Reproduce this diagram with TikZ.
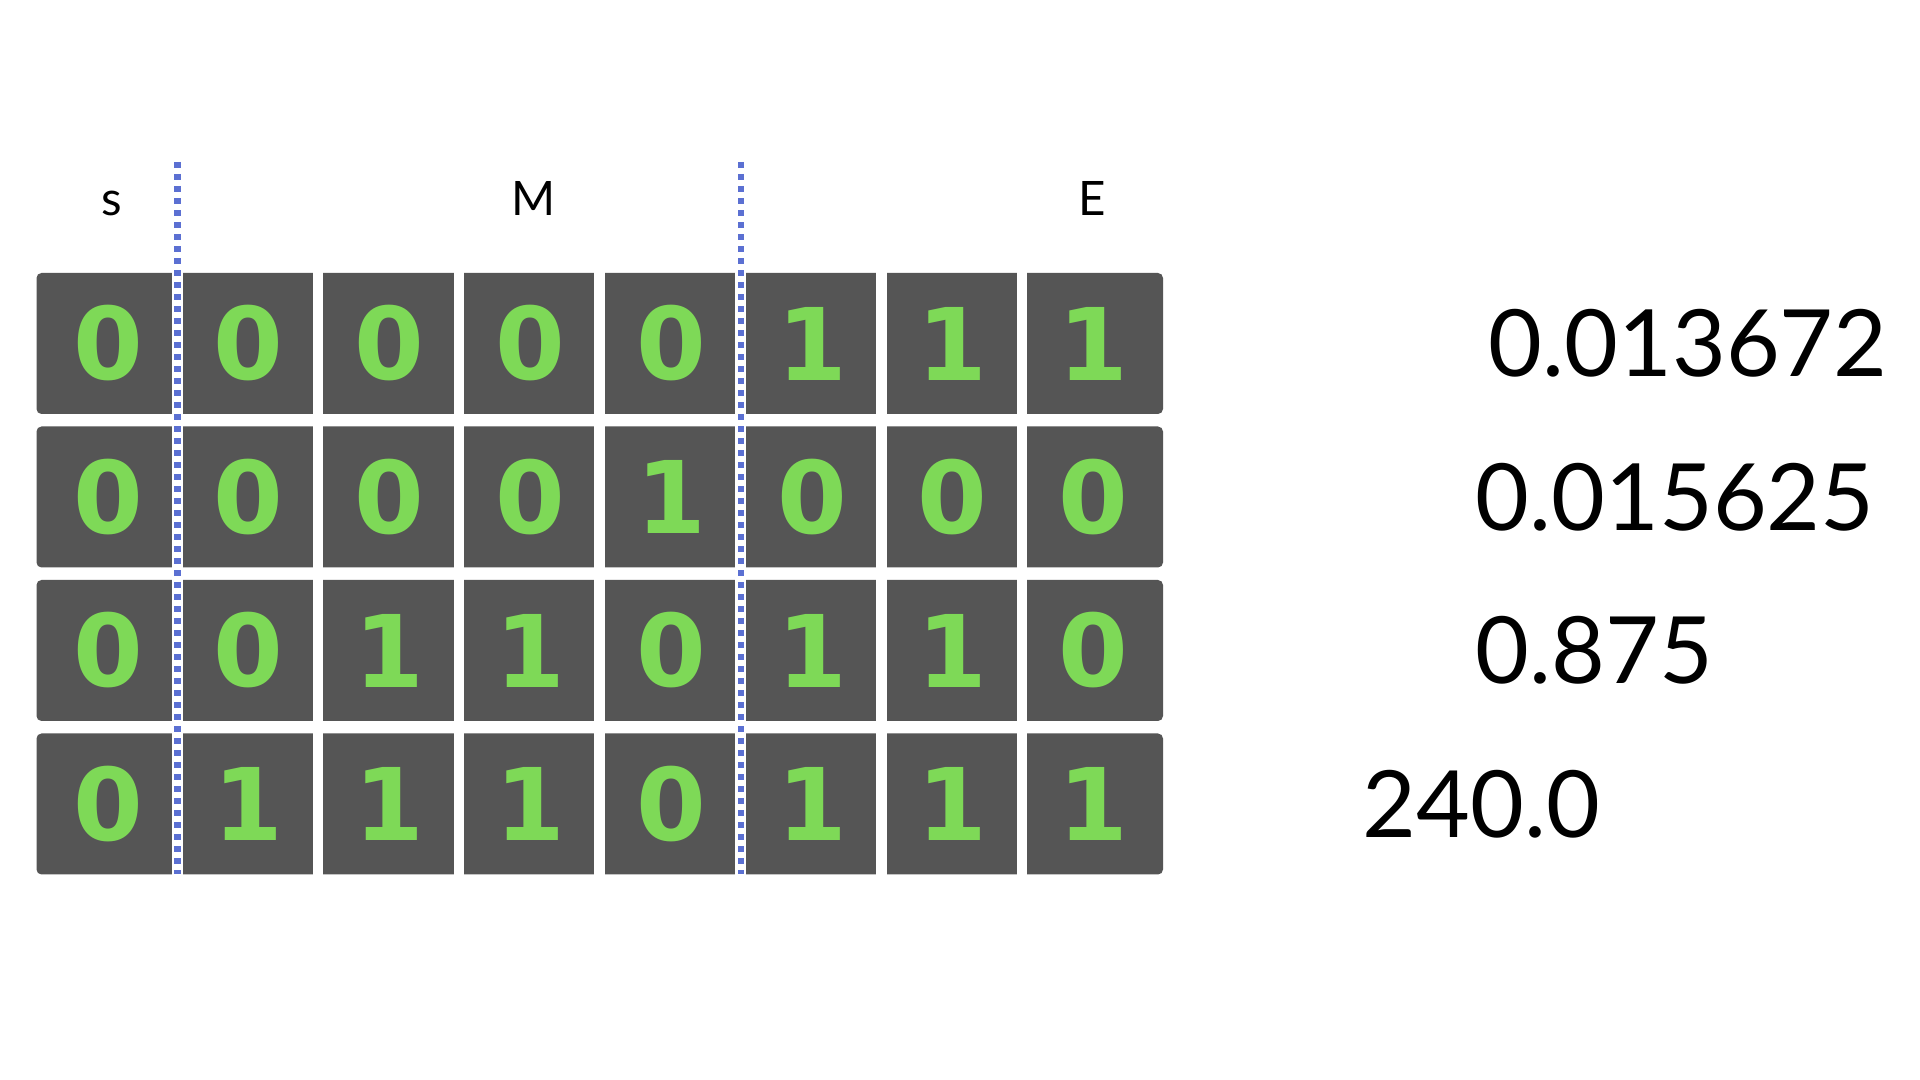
\documentclass[tikz,border=0pt]{standalone}
\usepackage{fontspec}
\setmainfont{Lato}
\newfontfamily\cellfont{DejaVu Sans}
\definecolor{cellgray}{HTML}{555555}
\definecolor{bitgreen}{HTML}{7ED957}
\definecolor{divblue}{HTML}{5B70D2}
\begin{document}
\begin{tikzpicture}[x=0.01cm,y=-0.01cm,
  rowbox/.style={fill=cellgray, rounded corners=0.05cm},
  gapbar/.style={fill=white},
  bit/.style={font=\cellfont\bfseries\fontsize{28.5}{30}\selectfont, text=bitgreen, inner sep=0pt},
  lbl/.style={font=\fontsize{13.5}{16}\selectfont, inner sep=0pt},
  num/.style={font=\fontsize{26.4}{30}\selectfont, inner sep=0pt, anchor=west},
  divider/.style={draw=divblue, line width=0.06cm, dash pattern=on 0.06cm off 0.06cm}]
\useasboundingbox (0,0) rectangle (1920,1080);
\fill[white] (0,0) rectangle (1920,1080);
% rows of bits
\foreach \bits [count=\i from 0] in {{0,0,0,0,0,1,1,1},{0,0,0,0,1,0,0,0},{0,0,1,1,0,1,1,0},{0,1,1,1,0,1,1,1}} {
  \fill[rowbox] (36.5,273+153.5*\i) rectangle (1163,414+153.5*\i);
  \foreach \k in {1,...,7} {
    \fill[gapbar] (36.5+140.8*\k-5.3,272+153.5*\i) rectangle (36.5+140.8*\k+5.3,415+153.5*\i);
  }
  \foreach \b [count=\k from 0] in \bits {
    \node[bit] (b\i-\k) at (108+140.8*\k,343.5+153.5*\i) {\b};
  }
}
% dividers
\coordinate (d1top) at (177.5,162);
\coordinate (d1bot) at (177.5,874);
\coordinate (d2top) at (740.5,162);
\coordinate (d2bot) at (740.5,874);
\draw[divider] (d1top) -- (d1bot);
\draw[divider] (d2top) -- (d2bot);
% field labels
\node[lbl, anchor=base] (sLbl) at (111.5,216) {s};
\node[lbl, anchor=base] (mLbl) at (534,216) {M};
\node[lbl, anchor=base] (eLbl) at (1092,216) {E};
% values
\node[num] (v0) at (1488,343.5) {0.013672};
\node[num] (v1) at (1475,497) {0.015625};
\node[num] (v2) at (1475,650.5) {0.875};
\node[num] (v3) at (1362,804) {240.0};
\end{tikzpicture}
\end{document}
